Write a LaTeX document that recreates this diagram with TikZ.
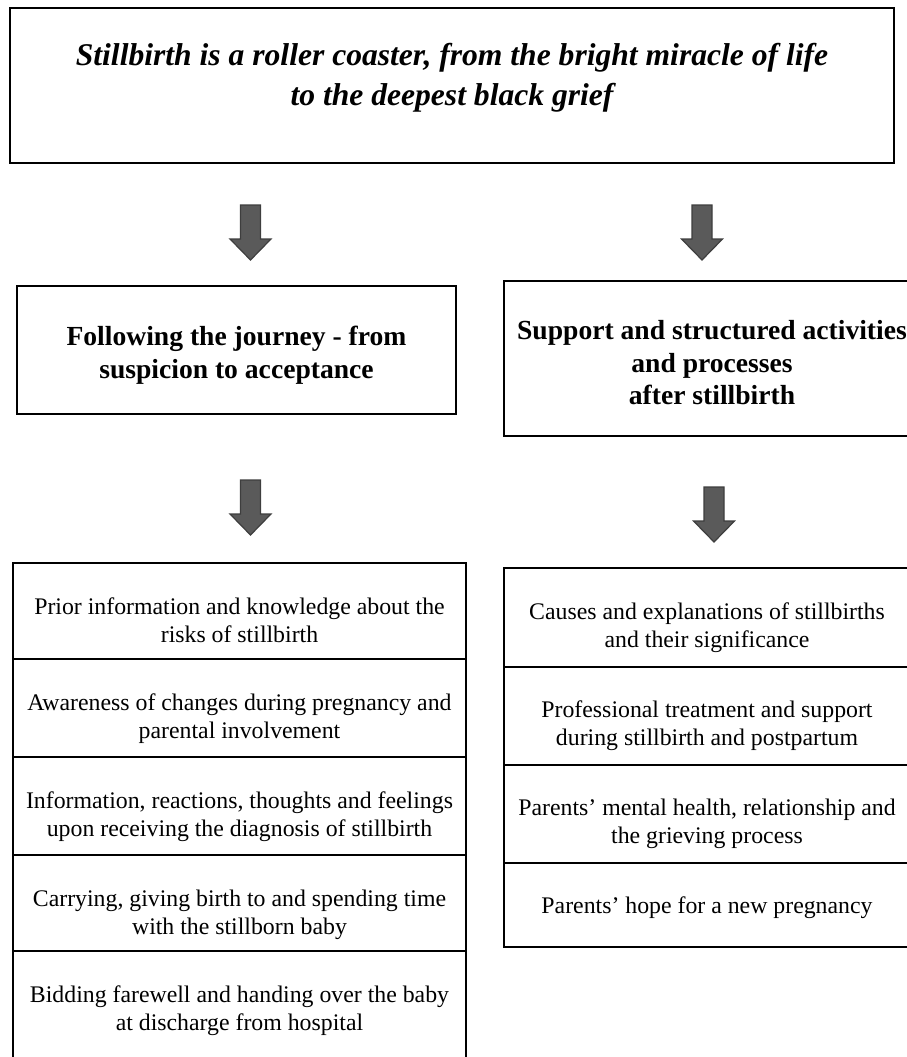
\documentclass[tikz,border=0pt]{standalone}
\usepackage{fontspec}
\setmainfont{Liberation Serif}
\begin{document}
\begin{tikzpicture}[x=1pt,y=-1pt,
  box/.style={draw=black, line width=2pt, rectangle, inner sep=0pt},
  rowtext/.style={align=center, inner sep=0pt, anchor=north, font=\fontsize{23.8}{27.6}\selectfont},
  headtext/.style={align=center, font=\fontsize{27.6}{32.5}\selectfont\bfseries},
  blockarrow/.style={fill=arrowfill, draw=arrowdraw, line width=1.2pt, line join=miter}
]
\definecolor{arrowfill}{RGB}{90,90,90}
\definecolor{arrowdraw}{RGB}{62,62,62}
\newcommand\mydownarrow[2]{%
  \draw[blockarrow] (#1-10,#2) -- (#1+10,#2) -- (#1+10,#2+34) -- (#1+20.5,#2+34)
    -- (#1,#2+55) -- (#1-20.5,#2+34) -- (#1-10,#2+34) -- cycle;}
\useasboundingbox (0,0) rectangle (906,1057);

% top box
\node[box, minimum width=884pt, minimum height=155pt] (top) at (452,85.5) {};
\node[align=center, font=\fontsize{31.6}{40}\selectfont\bfseries\itshape] (toptext) at (452,78)
  {Stillbirth is a roller coaster, from the bright miracle of life\\to the deepest black grief};

% arrows row 1
\mydownarrow{250.5}{205}
\mydownarrow{702}{205}

% middle boxes
\node[box, minimum width=439pt, minimum height=128pt] (left) at (236.5,350) {};
\node[headtext] (lefttext) at (236.5,355) {Following the journey - from\\suspicion to acceptance};
\node[box, minimum width=416pt, minimum height=155pt] (right) at (712,358.5) {};
\node[headtext] (righttext) at (712,363) {Support and structured activities\\and processes\\after stillbirth};

% arrows row 2
\mydownarrow{250.5}{480}
\mydownarrow{714}{487}

% left list (rows)
\node[box, minimum width=453pt, minimum height=96pt] (l1) at (239.5,611) {};
\node[box, minimum width=453pt, minimum height=98pt] (l2) at (239.5,708) {};
\node[box, minimum width=453pt, minimum height=98pt] (l3) at (239.5,806) {};
\node[box, minimum width=453pt, minimum height=96pt] (l4) at (239.5,903) {};
\node[box, minimum width=453pt, minimum height=114pt] (l5) at (239.5,1008) {};
\node[rowtext] (t1) at (239.5,598) {Prior information and knowledge about the\\risks of stillbirth};
\node[rowtext] (t2) at (239.5,694) {Awareness of changes during pregnancy and\\parental involvement};
\node[rowtext] (t3) at (239.5,792) {Information, reactions, thoughts and feelings\\upon receiving the diagnosis of stillbirth};
\node[rowtext] (t4) at (239.5,890) {Carrying, giving birth to and spending time\\with the stillborn baby};
\node[rowtext] (t5) at (239.5,986) {Bidding farewell and handing over the baby\\at discharge from hospital};

% right list (rows)
\node[box, minimum width=406pt, minimum height=99pt] (r1) at (707,617.5) {};
\node[box, minimum width=406pt, minimum height=98pt] (r2) at (707,716) {};
\node[box, minimum width=406pt, minimum height=98pt] (r3) at (707,814) {};
\node[box, minimum width=406pt, minimum height=84pt] (r4) at (707,905) {};
\node[rowtext] (s1) at (707,603) {Causes and explanations of stillbirths\\and their significance};
\node[rowtext] (s2) at (707,701) {Professional treatment and support\\during stillbirth and postpartum};
\node[rowtext] (s3) at (707,799) {Parents’ mental health, relationship and\\the grieving process};
\node[rowtext] (s4) at (707,897) {Parents’ hope for a new pregnancy};
\end{tikzpicture}
\end{document}
